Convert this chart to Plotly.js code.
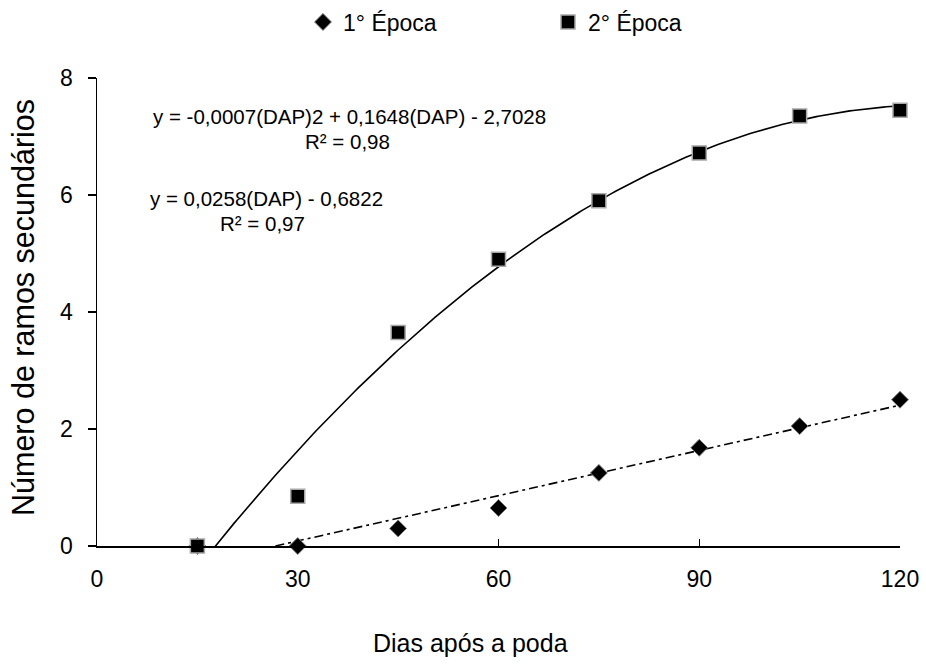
<!DOCTYPE html>
<html>
<head>
<meta charset="utf-8">
<script src="https://cdn.plot.ly/plotly-3.0.1.min.js"></script>
<style>html,body{margin:0;padding:0;background:#fff;}#chart{width:926px;height:667px;}</style>
</head>
<body>
<div id="chart"></div>
<script>
// Data
const dias = [15, 30, 45, 60, 75, 90, 105, 120];
const epoca1 = [0, 0, 0.3, 0.65, 1.25, 1.68, 2.05, 2.5];
const epoca2 = [0, 0.85, 3.65, 4.9, 5.9, 6.72, 7.35, 7.45];
const seriesNames = ["1° Época", "2° Época"];
const xTicks = [0, 30, 60, 90, 120];
const yTicks = [0, 2, 4, 6, 8];
const eq1Text = "y = -0,0007(DAP)2 + 0,1648(DAP) - 2,7028";
const r1Text = "R² = 0,98";
const eq2Text = "y = 0,0258(DAP) - 0,6822";
const r2Text = "R² = 0,97";

// Least-squares polynomial fit (like a spreadsheet trendline)
function polyfit(xs, ys, deg) {
  const n = deg + 1;
  const A = [];
  for (let i = 0; i < n; i++) {
    A.push(new Array(n + 1).fill(0));
  }
  for (let k = 0; k < xs.length; k++) {
    for (let i = 0; i < n; i++) {
      for (let j = 0; j < n; j++) A[i][j] += Math.pow(xs[k], i + j);
      A[i][n] += ys[k] * Math.pow(xs[k], i);
    }
  }
  for (let i = 0; i < n; i++) {
    let p = i;
    for (let r = i + 1; r < n; r++) if (Math.abs(A[r][i]) > Math.abs(A[p][i])) p = r;
    [A[i], A[p]] = [A[p], A[i]];
    for (let r = 0; r < n; r++) {
      if (r === i) continue;
      const f = A[r][i] / A[i][i];
      for (let c = i; c <= n; c++) A[r][c] -= f * A[i][c];
    }
  }
  return A.map((row, i) => row[n] / row[i]);
}
function evalFit(coef, xs) {
  return xs.map(x => coef.reduce((s, c, i) => s + c * Math.pow(x, i), 0));
}
const xMin = Math.min(...dias), xMax = Math.max(...dias);
const fitX = [];
for (let x = xMin; x <= xMax; x += 0.5) fitX.push(x);
const c1 = polyfit(dias, epoca1, 1);
const c2 = polyfit(dias, epoca2, 2);

const FONT = "Liberation Sans, Arial, sans-serif";

const traces = [
  {x: fitX, y: evalFit(c1, fitX), mode: "lines", showlegend: false, hoverinfo: "skip",
   line: {color: "#000", width: 1.6, dash: "9px,4px,3px,4px"}},
  {x: fitX, y: evalFit(c2, fitX), mode: "lines", showlegend: false, hoverinfo: "skip",
   line: {color: "#000", width: 1.6}},
  {x: dias, y: epoca1, name: seriesNames[0], mode: "markers", cliponaxis: false,
   marker: {symbol: "diamond", size: 13, color: "#000", line: {color: "#7a7a7a", width: 1}}},
  {x: dias, y: epoca2, name: seriesNames[1], mode: "markers", cliponaxis: false,
   marker: {symbol: "square", size: 14, color: "#000", line: {color: "#a8a8a8", width: 1.5}}}
];

const pw = 803, ph = 468;
function px(x) { return (x - 97) / pw; }
function py(y) { return (546 - y) / ph; }

const layout = {
  width: 926, height: 667,
  margin: {l: 97, r: 26, t: 78, b: 121, autoexpand: false},
  paper_bgcolor: "#fff", plot_bgcolor: "#fff",
  font: {family: FONT, color: "#000", size: 20},
  showlegend: true,
  legend: {orientation: "h", x: px(303), xanchor: "left", y: py(22), yanchor: "middle",
           font: {family: FONT, size: 23, color: "#000"}, entrywidth: 200, entrywidthmode: "pixels",
           bgcolor: "rgba(0,0,0,0)"},
  xaxis: {range: [0, 120], tickvals: xTicks, ticktext: xTicks.map(String),
          showgrid: false, zeroline: false, showline: true, linecolor: "#000", linewidth: 1.5,
          ticks: "inside", ticklen: 7, tickwidth: 1.5, tickcolor: "#000",
          tickfont: {family: FONT, size: 23, color: "#000"}, ticklabelstandoff: 12, fixedrange: true},
  yaxis: {range: [0, 8], tickvals: yTicks, ticktext: yTicks.map(String),
          showgrid: false, zeroline: false, showline: true, linecolor: "#000", linewidth: 1.5,
          ticks: "outside", ticklen: 8, tickwidth: 1.5, tickcolor: "#000",
          tickfont: {family: FONT, size: 23, color: "#000"}, ticklabelstandoff: 10, fixedrange: true},
  annotations: [
    {text: eq1Text, xref: "paper", yref: "paper", x: px(349), y: py(116), xanchor: "center", yanchor: "middle", showarrow: false, font: {family: FONT, size: 20.5}},
    {text: r1Text, xref: "paper", yref: "paper", x: px(347), y: py(142), xanchor: "center", yanchor: "middle", showarrow: false, font: {family: FONT, size: 20.5}},
    {text: eq2Text, xref: "paper", yref: "paper", x: px(266), y: py(198), xanchor: "center", yanchor: "middle", showarrow: false, font: {family: FONT, size: 20.5}},
    {text: r2Text, xref: "paper", yref: "paper", x: px(262), y: py(223), xanchor: "center", yanchor: "middle", showarrow: false, font: {family: FONT, size: 20.5}},
    {text: "Dias após a poda", xref: "paper", yref: "paper", x: px(470), y: py(643), xanchor: "center", yanchor: "middle", showarrow: false, font: {family: FONT, size: 25}},
    {text: "Número de ramos secundários", xref: "paper", yref: "paper", x: px(23), y: py(308), xanchor: "center", yanchor: "middle", textangle: -90, showarrow: false, font: {family: FONT, size: 30.5}}
  ]
};

Plotly.newPlot("chart", traces, layout, {displayModeBar: false, staticPlot: true});
</script>
</body>
</html>
